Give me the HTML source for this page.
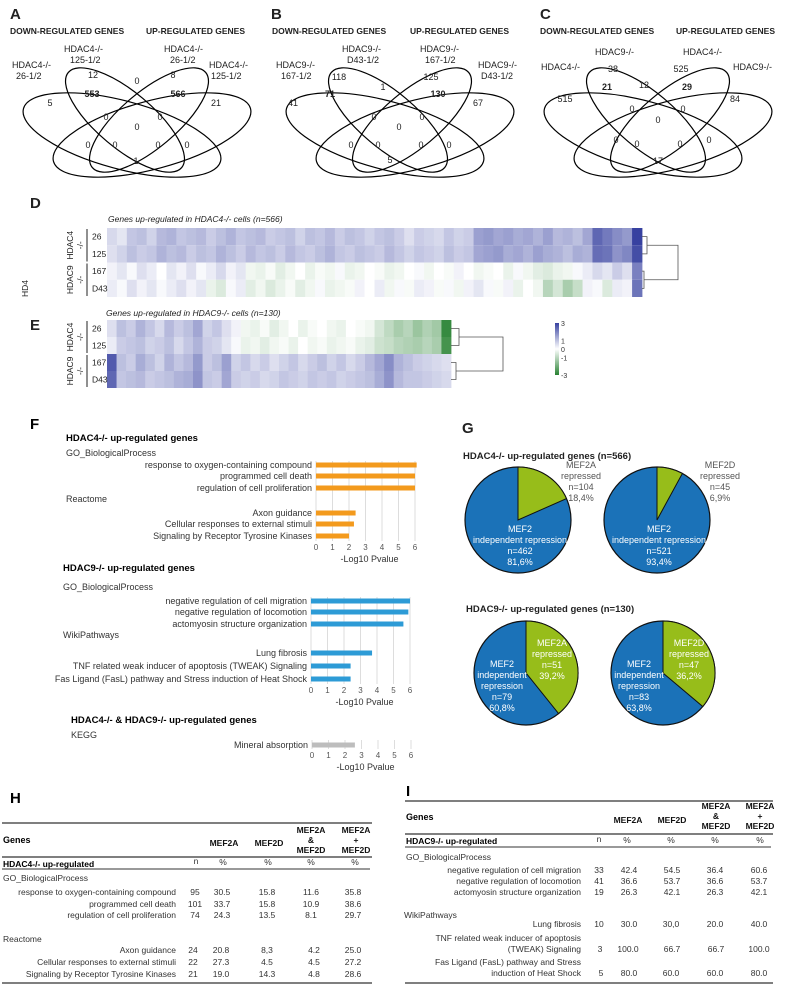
<!DOCTYPE html>
<html><head><meta charset="utf-8"><style>
html,body{margin:0;padding:0;background:#fff;}
svg{display:block;font-family:"Liberation Sans",Arial,sans-serif;}
.b{font-weight:bold}
</style></head><body>
<svg id="fig" width="787" height="987" viewBox="0 0 787 987">
<g id="venns" fill="none" stroke="#000" stroke-width="1.2"></g>
<g font-size="9" fill="#222">
<text x="10" y="19" font-size="15" class="b">A</text>
<text x="10" y="34" font-size="8.5" class="b">DOWN-REGULATED GENES</text>
<text x="146" y="34" font-size="8.5" class="b">UP-REGULATED GENES</text>
<text x="12" y="68">HDAC4-/-</text><text x="16" y="79">26-1/2</text>
<text x="64" y="52">HDAC4-/-</text><text x="70" y="63">125-1/2</text>
<text x="164" y="52">HDAC4-/-</text><text x="170" y="63">26-1/2</text>
<text x="209" y="68">HDAC4-/-</text><text x="211" y="79">125-1/2</text>
<g text-anchor="middle">
<text x="50" y="106">5</text><text x="93" y="78">12</text><text x="92" y="97" class="b">553</text><text x="137" y="84">0</text>
<text x="173" y="78">8</text><text x="178" y="97" class="b">566</text><text x="216" y="106">21</text>
<text x="106" y="120">0</text><text x="160" y="120">0</text><text x="137" y="130">0</text>
<text x="88" y="148">0</text><text x="115" y="148">0</text><text x="158" y="148">0</text><text x="187" y="148">0</text><text x="136" y="164">1</text>
</g>
<text x="271" y="19" font-size="15" class="b">B</text>
<text x="272" y="34" font-size="8.5" class="b">DOWN-REGULATED GENES</text>
<text x="410" y="34" font-size="8.5" class="b">UP-REGULATED GENES</text>
<text x="276" y="68">HDAC9-/-</text><text x="281" y="79">167-1/2</text>
<text x="342" y="52">HDAC9-/-</text><text x="347" y="63">D43-1/2</text>
<text x="420" y="52">HDAC9-/-</text><text x="425" y="63">167-1/2</text>
<text x="478" y="68">HDAC9-/-</text><text x="481" y="79">D43-1/2</text>
<g text-anchor="middle">
<text x="293" y="106">41</text><text x="339" y="80">118</text><text x="330" y="97" class="b">71</text><text x="383" y="90">1</text>
<text x="431" y="80">125</text><text x="438" y="97" class="b">130</text><text x="478" y="106">67</text>
<text x="374" y="120">0</text><text x="422" y="120">0</text><text x="399" y="130">0</text>
<text x="351" y="148">0</text><text x="378" y="148">0</text><text x="421" y="148">0</text><text x="449" y="148">0</text><text x="390" y="163">5</text>
</g>
<text x="540" y="19" font-size="15" class="b">C</text>
<text x="540" y="34" font-size="8.5" class="b">DOWN-REGULATED GENES</text>
<text x="676" y="34" font-size="8.5" class="b">UP-REGULATED GENES</text>
<text x="541" y="70">HDAC4-/-</text><text x="595" y="55">HDAC9-/-</text><text x="683" y="55">HDAC4-/-</text><text x="733" y="70">HDAC9-/-</text>
<g text-anchor="middle">
<text x="565" y="102">515</text><text x="613" y="72">38</text><text x="607" y="90" class="b">21</text><text x="644" y="88">12</text>
<text x="681" y="72">525</text><text x="687" y="90" class="b">29</text><text x="735" y="102">84</text>
<text x="632" y="112">0</text><text x="683" y="112">0</text><text x="658" y="123">0</text>
<text x="616" y="143">0</text><text x="637" y="147">0</text><text x="680" y="147">0</text><text x="709" y="143">0</text><text x="658" y="164">17</text>
</g>
</g>

<g font-size="9" fill="#222">
<text x="30" y="208" font-size="15" class="b">D</text>
<text x="108" y="222" font-style="italic" font-size="8.5">Genes up-regulated in HDAC4-/- cells (n=566)</text>
<text x="30" y="330" font-size="15" class="b">E</text>
<text x="106" y="316" font-style="italic" font-size="8.5">Genes up-regulated in HDAC9-/- cells (n=130)</text>
<text transform="translate(28,297) rotate(-90)" font-size="8.5">HD4</text>
</g>
<g id="heat"></g>

<g font-size="9" fill="#333">
<text x="30" y="429" font-size="15" class="b" fill="#000">F</text>
<text x="66" y="441" class="b" fill="#000" font-size="9.5">HDAC4-/- up-regulated genes</text>
<text x="66" y="456">GO_BiologicalProcess</text>
<text x="66" y="502">Reactome</text>
<text x="63" y="571" class="b" fill="#000" font-size="9.5">HDAC9-/- up-regulated genes</text>
<text x="63" y="590">GO_BiologicalProcess</text>
<text x="63" y="638">WikiPathways</text>
<text x="71" y="723" class="b" fill="#000" font-size="9.5">HDAC4-/- &amp; HDAC9-/- up-regulated genes</text>
<text x="71" y="738">KEGG</text>
</g>
<g id="bars"></g>

<g font-size="9" fill="#222">
<text x="462" y="433" font-size="15" class="b">G</text>
<text x="463" y="459" class="b" font-size="9.5">HDAC4-/- up-regulated genes (n=566)</text>
<text x="466" y="612" class="b" font-size="9.5">HDAC9-/- up-regulated genes (n=130)</text>
</g>
<g id="pies"></g>

<g font-size="8.5" fill="#333">
<text x="10" y="803" font-size="15" class="b" fill="#000">H</text>
<line x1="2" y1="823" x2="372" y2="823" stroke="#333" stroke-width="1.2"/>
<text x="3" y="843" class="b" font-size="9" fill="#000">Genes</text>
<g class="b" text-anchor="middle" fill="#111">
<text x="224" y="846">MEF2A</text><text x="269" y="846">MEF2D</text>
<text x="311" y="833">MEF2A</text><text x="311" y="843">&amp;</text><text x="311" y="853">MEF2D</text>
<text x="356" y="833">MEF2A</text><text x="356" y="843">+</text><text x="356" y="853">MEF2D</text></g>
<line x1="2" y1="857" x2="372" y2="857" stroke="#333" stroke-width="1.2"/>
<text x="3" y="867" class="b" fill="#000">HDAC4-/- up-regulated</text>
<g text-anchor="middle"><text x="196" y="864">n</text><text x="223" y="865">%</text><text x="268" y="865">%</text><text x="311" y="865">%</text><text x="355" y="865">%</text></g>
<line x1="2" y1="869" x2="370" y2="869" stroke="#333" stroke-width="1"/>
<text x="3" y="881">GO_BiologicalProcess</text>
<g text-anchor="end"><text x="176" y="895">response to oxygen-containing compound</text><text x="176" y="907">programmed cell death</text><text x="176" y="918">regulation of cell proliferation</text>
<text x="176" y="953">Axon guidance</text><text x="176" y="965">Cellular responses to external stimuli</text><text x="176" y="977">Signaling by Receptor Tyrosine Kinases</text></g>
<text x="3" y="942">Reactome</text>
<g text-anchor="middle">
<text x="195" y="895">95</text><text x="222" y="895">30.5</text><text x="267" y="895">15.8</text><text x="311" y="895">11.6</text><text x="353" y="895">35.8</text>
<text x="195" y="907">101</text><text x="222" y="907">33.7</text><text x="267" y="907">15.8</text><text x="311" y="907">10.9</text><text x="353" y="907">38.6</text>
<text x="195" y="918">74</text><text x="222" y="918">24.3</text><text x="267" y="918">13.5</text><text x="311" y="918">8.1</text><text x="353" y="918">29.7</text>
<text x="193" y="953">24</text><text x="221" y="953">20.8</text><text x="267" y="953">8,3</text><text x="314" y="953">4.2</text><text x="353" y="953">25.0</text>
<text x="193" y="965">22</text><text x="221" y="965">27.3</text><text x="267" y="965">4.5</text><text x="314" y="965">4.5</text><text x="353" y="965">27.2</text>
<text x="193" y="977">21</text><text x="221" y="977">19.0</text><text x="267" y="977">14.3</text><text x="314" y="977">4.8</text><text x="353" y="977">28.6</text></g>
<line x1="2" y1="983" x2="372" y2="983" stroke="#333" stroke-width="1.2"/>
</g>

<g font-size="8.5" fill="#333">
<text x="406" y="796" font-size="15" class="b" fill="#000">I</text>
<line x1="405" y1="801" x2="773" y2="801" stroke="#333" stroke-width="1.2"/>
<text x="406" y="820" class="b" font-size="9" fill="#000">Genes</text>
<g class="b" text-anchor="middle" fill="#111">
<text x="628" y="823">MEF2A</text><text x="672" y="823">MEF2D</text>
<text x="716" y="809">MEF2A</text><text x="716" y="819">&amp;</text><text x="716" y="829">MEF2D</text>
<text x="760" y="809">MEF2A</text><text x="760" y="819">+</text><text x="760" y="829">MEF2D</text></g>
<line x1="405" y1="834" x2="773" y2="834" stroke="#333" stroke-width="1.2"/>
<text x="406" y="844" class="b" fill="#000">HDAC9-/- up-regulated</text>
<g text-anchor="middle"><text x="599" y="842">n</text><text x="627" y="843">%</text><text x="671" y="843">%</text><text x="715" y="843">%</text><text x="760" y="843">%</text></g>
<line x1="405" y1="847" x2="771" y2="847" stroke="#333" stroke-width="1"/>
<text x="406" y="860">GO_BiologicalProcess</text>
<g text-anchor="end"><text x="581" y="873">negative regulation of cell migration</text><text x="581" y="884">negative regulation of locomotion</text><text x="581" y="895">actomyosin structure organization</text>
<text x="581" y="927">Lung fibrosis</text>
<text x="581" y="941">TNF related weak inducer of apoptosis</text><text x="581" y="952">(TWEAK) Signaling</text>
<text x="581" y="965">Fas Ligand (FasL) pathway and Stress</text><text x="581" y="976">induction of Heat Shock</text></g>
<text x="404" y="918">WikiPathways</text>
<g text-anchor="middle">
<text x="599" y="873">33</text><text x="629" y="873">42.4</text><text x="672" y="873">54.5</text><text x="715" y="873">36.4</text><text x="759" y="873">60.6</text>
<text x="599" y="884">41</text><text x="629" y="884">36.6</text><text x="672" y="884">53.7</text><text x="715" y="884">36.6</text><text x="759" y="884">53.7</text>
<text x="599" y="895">19</text><text x="629" y="895">26.3</text><text x="672" y="895">42.1</text><text x="715" y="895">26.3</text><text x="759" y="895">42.1</text>
<text x="599" y="927">10</text><text x="629" y="927">30.0</text><text x="671" y="927">30,0</text><text x="715" y="927">20.0</text><text x="759" y="927">40.0</text>
<text x="600" y="952">3</text><text x="628" y="952">100.0</text><text x="672" y="952">66.7</text><text x="716" y="952">66.7</text><text x="759" y="952">100.0</text>
<text x="601" y="976">5</text><text x="629" y="976">80.0</text><text x="671" y="976">60.0</text><text x="715" y="976">60.0</text><text x="759" y="976">80.0</text></g>
<line x1="405" y1="983" x2="773" y2="983" stroke="#333" stroke-width="1.2"/>
</g>
</svg>
<script>
// ---- GO bar chart data ----
const goCats1 = ["response to oxygen-containing compound","programmed cell death","regulation of cell proliferation","Axon guidance","Cellular responses to external stimuli","Signaling by Receptor Tyrosine Kinases"];
const goVals1 = [6.1, 6.0, 6.0, 2.4, 2.3, 2.0];
const goCats2 = ["negative regulation of cell migration","negative regulation of locomotion","actomyosin structure organization","Lung fibrosis","TNF related weak inducer of apoptosis (TWEAK) Signaling","Fas Ligand (FasL) pathway and Stress induction of Heat Shock"];
const goVals2 = [6.0, 5.9, 5.6, 3.7, 2.4, 2.4];
const goCats3 = ["Mineral absorption"];
const goVals3 = [2.6];
const xTicks = [0,1,2,3,4,5,6];
// ---- Pie data ----
const pieLabels = ["MEF2A","MEF2D","MEF2A","MEF2D"];
const pieRepressed = [104, 45, 51, 47];
const pieIndependent = [462, 521, 79, 83];
const pieRepPct = ["18,4%","6,9%","39,2%","36,2%"];
const pieIndPct = ["81,6%","93,4%","60,8%","63,8%"];
// ---- Heatmap data (segments, z-scores) ----
const heatRowsD = ["26","125","167","D43"];
const d26 = [0.6,0.4,0.9,1,0.7,1.1,1.2,0.9,1,1.1,0.8,1,1.2,0.9,1,1.1,0.8,0.9,1,0.7,1,0.9,1.1,0.8,1,0.9,0.7,0.9,1,0.8,0.5,0.8,0.7,0.6,0.9,0.7,0.8,1.5,1.6,1.4,1.5,1.3,1.4,1.2,1.5,1.1,1.2,1.0,1.4,2.4,2.1,1.8,1.6,3.0];
const d125 = [0.5,0.7,1.0,0.8,0.9,1.2,1.0,1.1,0.8,1.0,0.9,1.2,1.0,0.8,1.1,0.9,1.0,0.8,1.1,0.9,0.8,1.0,1.2,0.9,0.8,1.0,0.9,0.8,1.1,0.9,0.7,0.9,0.8,0.7,1.0,0.8,0.9,1.4,1.5,1.6,1.3,1.4,1.2,1.5,1.3,1.2,1.0,1.3,1.2,2.3,2.2,1.7,1.9,2.8];
const d167 = [0.2,0.4,0.1,0.5,0.3,0,0.4,0.2,0.5,0.1,0.3,0.6,0.2,0.4,-0.2,-0.3,-0.1,-0.4,-0.2,0,-0.3,-0.1,-0.2,0.1,-0.3,-0.2,0,-0.1,-0.3,-0.2,0,0.1,-0.2,0,-0.1,0.2,0,-0.2,-0.1,0,-0.3,0.1,-0.2,-0.4,-0.5,-0.3,-0.2,0.1,0.3,0.6,0.4,0.8,0.5,2.0];
const dD43 = [0.3,0.1,0.5,0.2,0.4,0.1,0.3,0.5,0.2,0.4,-0.3,-0.5,0.1,0.3,-0.4,-0.2,-0.5,-0.3,-0.1,-0.4,-0.2,0.1,-0.3,-0.2,-0.1,0.2,0,0.3,-0.2,0.1,-0.1,0.3,0.2,-0.1,0.1,-0.2,0.2,0.4,0.1,-0.1,0.2,-0.3,0,-0.2,-1.0,-0.6,-1.2,-0.8,0.2,0.1,-0.5,0.3,0.2,2.2];
const e26 = [0.5,1.0,0.8,1.2,0.9,0.6,1.1,0.8,1.0,1.4,0.7,0.9,0.5,0.2,-0.2,-0.3,-0.1,-0.4,-0.2,0,-0.3,-0.1,0,-0.2,-0.3,0,-0.1,-0.2,-0.6,-0.9,-1.2,-1.0,-1.4,-1.1,-1.3,-2.8];
const e125 = [0.3,0.8,0.9,1.0,0.7,0.8,1.0,0.6,0.9,1.2,0.8,0.7,0.4,0.1,-0.3,-0.2,-0.4,-0.2,-0.1,-0.3,0,-0.2,-0.1,-0.3,-0.2,-0.1,-0.3,-0.4,-0.7,-0.8,-1.0,-1.1,-1.2,-1.0,-1.2,-2.6];
const e167 = [2.6,1.0,0.8,1.3,1.0,0.7,1.2,0.9,1.1,1.6,0.8,1.0,1.5,0.7,0.9,0.6,0.8,0.5,0.7,0.9,0.6,0.8,1.0,0.7,0.9,0.6,0.8,1.1,1.4,1.8,1.2,1.0,0.8,0.7,0.6,0.5];
const eD43 = [2.4,0.9,1.0,1.1,0.8,0.9,1.0,1.2,1.3,1.7,0.9,0.8,1.4,0.8,0.7,0.8,0.6,0.7,0.9,0.8,0.7,0.9,0.8,0.9,0.7,0.8,0.9,1.0,1.3,1.7,1.1,0.9,0.9,0.8,0.7,0.6];
const legendTicks = [3,1,0,-1,-3];

const NS="http://www.w3.org/2000/svg";
function mk(tag, attrs, parent){const e=document.createElementNS(NS,tag);for(const k in attrs)e.setAttribute(k,attrs[k]);parent.appendChild(e);return e;}

// ---- Venn ellipses ----
const venns=document.getElementById('venns');
[137,400,658].forEach(cx=>{
  [[-15,135,102,34,15],[15,135,102,34,-15],[-12,120,74,28,40],[12,120,74,28,-40]].forEach(p=>{
    const e=mk('ellipse',{cx:cx+p[0],cy:p[1],rx:p[2],ry:p[3],transform:`rotate(${p[4]} ${cx+p[0]} ${p[1]})`},venns);
    
    
  });
});

// ---- Heatmaps ----
function heatColor(v){
  const t=Math.min(Math.abs(v)/3,1);
  const c = v>=0 ? [55,65,160] : [40,130,50];
  const r=Math.round(255+(c[0]-255)*t), g=Math.round(255+(c[1]-255)*t), b=Math.round(255+(c[2]-255)*t);
  return `rgb(${r},${g},${b})`;
}
const heat=document.getElementById('heat');
function drawHeat(rows, x0, x1, y0, rh){
  rows.forEach((row,ri)=>{
    const w=(x1-x0)/row.length;
    row.forEach((v,ci)=>{
      const r=mk('rect',{x:(x0+ci*w).toFixed(2),y:y0+ri*rh,width:(w+0.4).toFixed(2),height:rh,fill:heatColor(v)},heat);
      
      
    });
  });
}
function rowLabels(y0,rh){
  heatRowsD.forEach((l,i)=>{
    const t=mk('text',{x:92,y:y0+i*rh+rh/2+3,'font-size':8.5,fill:'#222'},heat);t.textContent=l;
    
    
  });
  mk('line',{x1:87,y1:y0+1,x2:87,y2:y0+2*rh-1,stroke:'#222'},heat);
  mk('line',{x1:87,y1:y0+2*rh+1,x2:87,y2:y0+4*rh-1,stroke:'#222'},heat);
  [["HDAC4",y0+rh],["HDAC9",y0+3*rh]].forEach(g=>{
    const t=mk('text',{transform:`translate(73,${g[1]}) rotate(-90)`,'text-anchor':'middle','font-size':8.5,fill:'#222'},heat);t.textContent=g[0];
    const u=mk('text',{transform:`translate(83,${g[1]}) rotate(-90)`,'text-anchor':'middle','font-size':8.5,fill:'#222'},heat);u.textContent='-/-';
  });
}
function dendro(x0,y0,rh,j1,j2){
  const a=y0+rh/2,b=y0+1.5*rh,c=y0+2.5*rh,d=y0+3.5*rh;
  mk('path',{d:`M${x0},${a}H${j1}V${b}H${x0}M${x0},${c}H${j1-3}V${d}H${x0}M${j1},${(a+b)/2}H${j2}V${(c+d)/2}H${j1-3}`,fill:'none',stroke:'#555','stroke-width':0.8},heat);
}
drawHeat([d26,d125,d167,dD43],107,642,228,17.25);
rowLabels(228,17.25);dendro(642,228,17.25,647,678);
drawHeat([e26,e125,e167,eD43],107,451,320,17);
rowLabels(320,17);dendro(451,320,17,459,503);
// legend
const defs=mk('defs',{},heat);
const lg=mk('linearGradient',{id:'lg',x1:0,y1:0,x2:0,y2:1},defs);
[[0,3],[0.33,1],[0.5,0],[0.67,-1],[1,-3]].forEach(s=>mk('stop',{offset:s[0],'stop-color':heatColor(s[1])},lg));
const lr=mk('rect',{x:555,y:323,width:4,height:52,fill:'url(#lg)'},heat);


legendTicks.forEach(v=>{
  const y=323+(3-v)/6*52;
  const t=mk('text',{x:561,y:y+3,'font-size':7,fill:'#333'},heat);t.textContent=v;
  
  
});

// ---- Bar charts ----
const bars=document.getElementById('bars');
const sc=16.5;
function barChart(cats, vals, x0, ys, top, bottom, color){
  xTicks.forEach(v=>{
    mk('line',{x1:x0+v*sc,y1:top,x2:x0+v*sc,y2:bottom,stroke:'#ddd','stroke-width':1},bars);
    const t=mk('text',{x:x0+v*sc,y:bottom+9,'font-size':8,'text-anchor':'middle',fill:'#555'},bars);t.textContent=v;
    
    
  });
  const at=mk('text',{x:x0+3*sc+4,y:bottom+21,'font-size':9,'text-anchor':'middle',fill:'#333'},bars);at.textContent='-Log10 Pvalue';
  
  
  cats.forEach((c,i)=>{
    const r=mk('rect',{x:x0,y:ys[i]-2.5,width:vals[i]*sc,height:5,fill:color},bars);
    
    
    const t=mk('text',{x:x0-4,y:ys[i]+3,'font-size':9,'text-anchor':'end',fill:'#333'},bars);t.textContent=c;
    
    
  });
}
barChart(goCats1,goVals1,316,[465,476,488,513,524,536],461,541,'#f39a1d');
barChart(goCats2,goVals2,311,[601,612,624,653,666,679],597,684,'#2d9bd6');
barChart(goCats3,goVals3,312,[745],740,749,'#bdbdbd');

// ---- Pies ----
const pies=document.getElementById('pies');
const pieCenters=[[518,520],[657,520],[526,673],[663,673]];
const pieR=[53,53,52,52];
pieLabels.forEach((lab,i)=>{
  const [cx,cy]=pieCenters[i], r=pieR[i];
  const tot=pieRepressed[i]+pieIndependent[i];
  const a=pieRepressed[i]/tot*2*Math.PI;
  const ex=cx+r*Math.sin(a), ey=cy-r*Math.cos(a);
  const c=mk('circle',{cx,cy,r,fill:'#1b72b8',stroke:'#111','stroke-width':1.2},pies);
  
  
  const p=mk('path',{d:`M${cx},${cy}L${cx},${cy-r}A${r},${r} 0 ${a>Math.PI?1:0} 1 ${ex},${ey}Z`,fill:'#97bd1a',stroke:'#111','stroke-width':1},pies);
  
  
  const top=i<2;
  const indLines = top? ['MEF2','independent repression','n='+pieIndependent[i],pieIndPct[i]] : ['MEF2','independent','repression','n='+pieIndependent[i],pieIndPct[i]];
  const ix = top? cx+2 : cx-24, iy = top? cy+12 : cy-6;
  indLines.forEach((s,k)=>{const t=mk('text',{x:ix,y:iy+k*11,'font-size':9,'text-anchor':'middle',fill:'#fff'},pies);t.textContent=s;});
  const repLines=[lab,'repressed','n='+pieRepressed[i],pieRepPct[i]];
  const rx = top? cx+r+10 : cx+26, ry = top? cy-52 : cy-27, col= top? '#555':'#fff';
  repLines.forEach((s,k)=>{const t=mk('text',{x:rx,y:ry+k*11,'font-size':9,'text-anchor':'middle',fill:col},pies);t.textContent=s;});
});
</script>
</body></html>
